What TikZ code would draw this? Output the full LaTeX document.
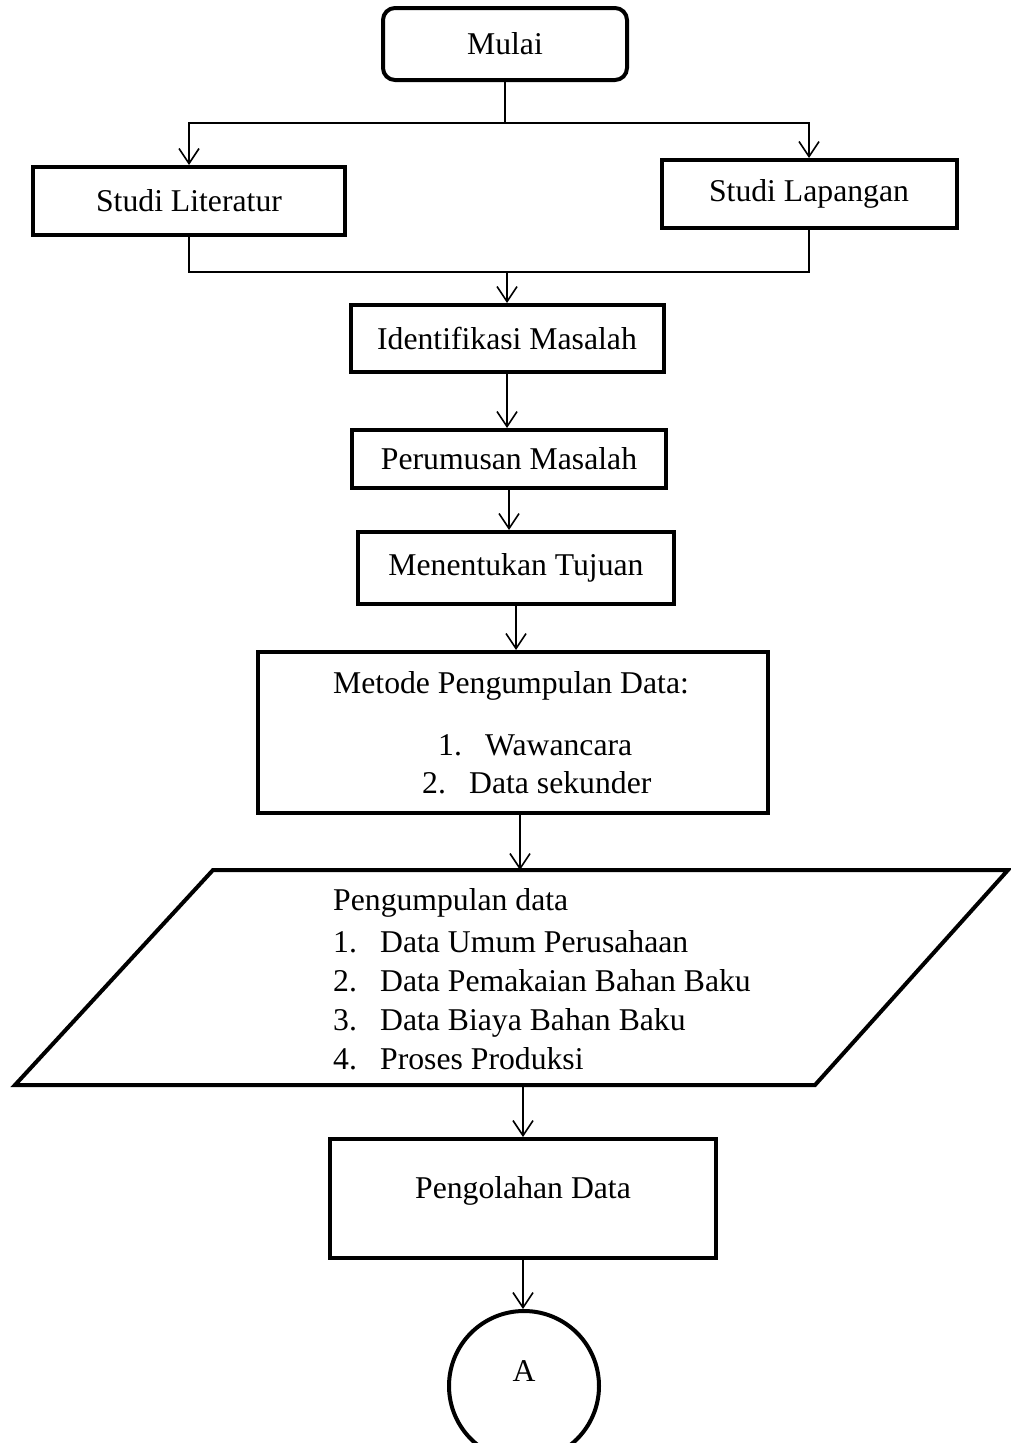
\documentclass[tikz,border=0pt]{standalone}
\usepackage{fontspec}
\setmainfont{Liberation Serif}
\usetikzlibrary{arrows.meta}
\newcommand{\itm}[2]{\makebox[47pt][l]{#1}#2}
\newcommand{\lift}[2]{\raisebox{#1}[\height][\depth]{#2}}
\tikzset{
	box/.style={draw, line width=4pt, inner sep=0pt},
	txt/.style={anchor=base west, inner sep=0pt},
	flow/.style={line width=1.6pt, -{Straight Barb[length=15pt,width=20pt]}},
	link/.style={line width=1.6pt}
}
\begin{document}
\begin{tikzpicture}[x=1pt, y=-1pt, every node/.style={font=\fontsize{31.7}{38}\selectfont}]
	\useasboundingbox (0,0) rectangle (1010,1443);
	%start
		\node[box, rounded corners=12pt, minimum width=244pt, minimum height=72pt] (mulai) at (505,44) {Mulai};
	%studies
		\node[box, minimum width=312pt, minimum height=68pt] (litstudy) at (189,201) {Studi Literatur};
		\node[box, minimum width=295pt, minimum height=68pt] (fieldstudy) at (809,194) {Studi Lapangan};
		\coordinate (split) at (505,123);
		\coordinate (join) at (507,272);
		\draw[link] (mulai.south) -- (split);
		\draw[flow] (split) -| (litstudy.north);
		\draw[flow] (split) -| (fieldstudy.north);
		\draw[link] (litstudy.south) |- (join) -| (fieldstudy.south);
	%problem steps
		\node[box, minimum width=313pt, minimum height=67pt] (ident) at (507,338.5) {Identifikasi Masalah};
		\node[box, minimum width=314pt, minimum height=58pt] (rumus) at (509,459) {Perumusan Masalah};
		\node[box, minimum width=316pt, minimum height=72pt] (tujuan) at (516,568) {Menentukan Tujuan};
		\draw[flow] (join) -- (ident.north);
		\draw[flow] (ident.south) -- (ident.south |- rumus.north);
		\draw[flow] (rumus.south) -- (rumus.south |- tujuan.north);
	%method box
		\node[box, minimum width=510pt, minimum height=161pt] (metode) at (513,732.5) {};
		\node[txt] (metodehead) at (333,693) {Metode Pengumpulan Data:};
		\node[txt] (metode1) at (438,755) {\itm{1.}{Wawancara}};
		\node[txt] (metode2) at (422,793) {\itm{2.}{Data sekunder}};
		\draw[flow] (tujuan.south) -- (tujuan.south |- metode.north);
	%data input
		\draw[line width=4pt, line join=miter] (213,870) -- (1008,870) -- (815,1085) -- (15,1085) -- cycle;
		\coordinate (datatop) at (520,870);
		\coordinate (databot) at (523,1085);
		\node[txt] (datahead) at (333,910) {Pengumpulan data};
		\node[txt] (data1) at (333,952) {\itm{1.}{Data Umum Perusahaan}};
		\node[txt] (data2) at (333,991) {\itm{2.}{Data Pemakaian Bahan Baku}};
		\node[txt] (data3) at (333,1030) {\itm{3.}{Data Biaya Bahan Baku}};
		\node[txt] (data4) at (333,1069) {\itm{4.}{Proses Produksi}};
		\draw[flow] (datatop |- metode.south) -- (datatop);
	%processing + connector
		\node[box, minimum width=386pt, minimum height=119pt] (olah) at (523,1198.5) {\lift{8pt}{Pengolahan Data}};
		\node[box, circle, minimum size=150pt] (konektor) at (524,1386) {\lift{15pt}{A}};
		\draw[flow] (databot) -- (olah.north);
		\draw[flow] (olah.south) -- (olah.south |- konektor.north);
\end{tikzpicture}
\end{document}
